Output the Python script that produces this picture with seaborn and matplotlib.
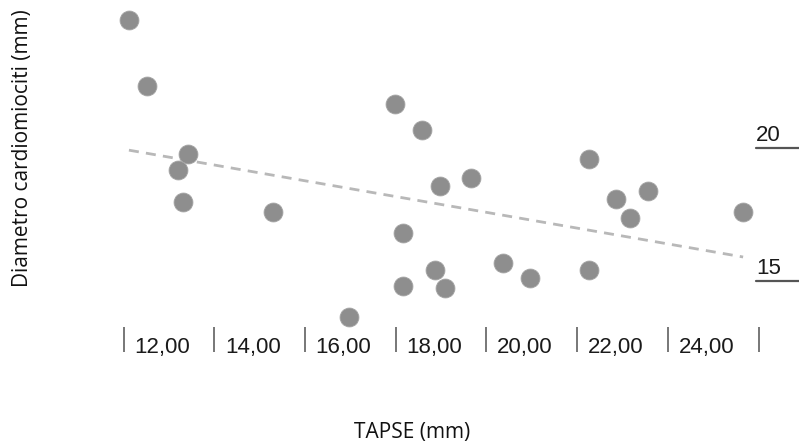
import matplotlib
matplotlib.use("Agg")
import matplotlib.pyplot as plt
import seaborn as sns
import pandas as pd

# ---- data ----
tapse = [12.12, 12.51, 13.42, 13.21, 13.31, 15.30, 16.98, 17.98, 18.58, 18.17,
         18.98, 19.67, 18.87, 18.17, 19.08, 20.37, 20.96, 22.26, 22.86, 23.56,
         23.16, 22.26, 25.66]
diametro = [24.82, 22.35, 19.79, 19.18, 17.99, 17.61, 13.65, 21.65, 20.69, 16.80,
            18.59, 18.89, 15.42, 14.82, 14.74, 15.70, 15.12, 19.58, 18.09, 18.39,
            17.39, 15.42, 17.61]
x_ticks = [12, 14, 16, 18, 20, 22, 24, 26]
x_tick_labels = ["12,00", "14,00", "16,00", "18,00", "20,00", "22,00", "24,00"]
y_ticks = [15, 20]
y_tick_labels = ["15", "20"]
x_title = "TAPSE (mm)"
y_title = "Diametro cardiomiociti (mm)"

df = pd.DataFrame({"TAPSE": tapse, "Diametro": diametro})

sns.set_theme(style="white")
plt.rcParams["font.family"] = ["Liberation Sans", "DejaVu Sans"]

W, H = 799, 448
fig = plt.figure(figsize=(W / 100, H / 100), dpi=100)
ax_left, ax_right, ax_top, ax_bot = 100, 799, 0, 327
ax = fig.add_axes([ax_left / W, 1 - ax_bot / H, (ax_right - ax_left) / W, (ax_bot - ax_top) / H])

sns.scatterplot(data=df, x="TAPSE", y="Diametro", ax=ax, s=185, color="#8e8e8e",
                edgecolor="#a5a5a5", linewidth=0.6, zorder=3)
sns.regplot(data=df, x="TAPSE", y="Diametro", ax=ax, scatter=False, ci=None,
            line_kws=dict(color="#b8b8b8", lw=2.0, ls=(0, (3.6, 2.6))))

# axis limits: pixel 123.5 -> 12, 45.36 px per unit ; pixel 148.3 -> 20, 26.6 px per unit
ax.set_xlim(12 + (ax_left - 123.5) / 45.36, 12 + (ax_right - 123.5) / 45.36)
ax.set_ylim(20 - (ax_bot - 148.3) / 26.6, 20 + (148.3 - ax_top) / 26.6)

for s in ax.spines.values():
    s.set_visible(False)

ax.set_xticks(x_ticks)
ax.set_xticklabels([""] * len(x_ticks))
ax.tick_params(axis="x", bottom=True, length=18, width=1.4, color="#777777", direction="out", pad=0)
ax.set_yticks([])
ax.set_xlabel("")
ax.set_ylabel("")

for v, lab in zip(x_ticks, x_tick_labels):
    ax.annotate(lab, xy=(v, 0), xycoords=("data", "axes fraction"),
                xytext=(7.6, -18.8), textcoords="offset points",
                ha="left", va="baseline", fontsize=16, color="#1a1a1a")

x0, x1 = ax.get_xlim()
frac = (26 - 0.06 - x0) / (x1 - x0)
for v, lab in zip(y_ticks, y_tick_labels):
    ax.axhline(v, xmin=frac, xmax=1, color="#555555", lw=1.6)
    ax.annotate(lab, xy=(26, v), xycoords="data", xytext=(-2.0, 5.5), textcoords="offset points",
                ha="left", va="baseline", fontsize=16, color="#1a1a1a")

fig.text(412 / W, 1 - 438 / H, x_title, ha="center", va="baseline", fontsize=15,
         family=["Open Sans", "DejaVu Sans"], color="#111111")
fig.text(22.5 / W, 1 - 148.5 / H, y_title, ha="center", va="center", rotation=90, fontsize=15,
         family=["Open Sans", "DejaVu Sans"], color="#111111")

fig.savefig("out.png", dpi=100)
